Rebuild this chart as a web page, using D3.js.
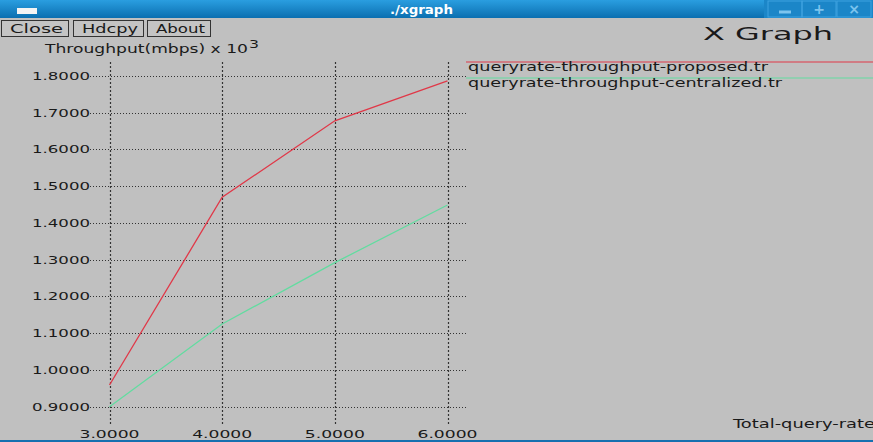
<!DOCTYPE html>
<html>
<head>
<meta charset="utf-8">
<script src="https://cdn.jsdelivr.net/npm/d3@7"></script>
<style>
  body { margin: 0; background: #c0c0c0; overflow: hidden; }
  text { font-family: "DejaVu Sans", sans-serif; fill: #1a1a1a; }
</style>
</head>
<body>
<div id="chart"></div>
<script>
const width = 873;
const height = 442;

// data
const queryRate = [3, 4, 5, 6];
const proposed = [0.959, 1.470, 1.678, 1.787];
const centralized = [0.900, 1.125, 1.292, 1.449];
const seriesNames = ['queryrate-throughput-proposed.tr', 'queryrate-throughput-centralized.tr'];
const xTicks = [3, 4, 5, 6];
const yTicks = [0.9, 1.0, 1.1, 1.2, 1.3, 1.4, 1.5, 1.6, 1.7, 1.8];
const buttons = ['Close', 'Hdcpy', 'About'];

const svg = d3.select('#chart')
  .append('svg')
    .attr('width', width)
    .attr('height', height);

svg.append('rect').attr('width', width).attr('height', height).attr('fill', '#c0c0c0');

// stretch text to a given width, the xgraph font is wide
function fit(sel, w) {
  sel.attr('textLength', w).attr('lengthAdjust', 'spacingAndGlyphs');
  return sel;
}

// title bar
const grad = svg.append('defs').append('linearGradient')
  .attr('id', 'bar').attr('x1', 0).attr('x2', 0).attr('y1', 0).attr('y2', 1);
grad.append('stop').attr('offset', 0).attr('stop-color', '#2a9ee0');
grad.append('stop').attr('offset', 1).attr('stop-color', '#0b6fb0');
svg.append('rect').attr('width', width).attr('height', 18).attr('fill', 'url(#bar)');
svg.append('rect').attr('x', 17).attr('y', 8).attr('width', 20).attr('height', 6).attr('fill', '#f4f4f4');
fit(svg.append('text').attr('x', 390).attr('y', 14)
  .style('font-weight', 'bold').style('font-size', '12px').style('fill', '#fff')
  .text('./xgraph'), 63);
svg.append('rect').attr('x', 764).attr('y', 0).attr('width', 109).attr('height', 18).attr('fill', '#1b86c8');
[[768, 34], [802, 34], [837, 34]].forEach(d => {
  svg.append('rect').attr('x', d[0]).attr('y', 1).attr('width', d[1]).attr('height', 16)
    .attr('fill', 'none').attr('stroke', '#3fa2e0').attr('stroke-width', 1);
});
svg.append('line').attr('x1', 779).attr('x2', 791).attr('y1', 12).attr('y2', 12)
  .attr('stroke', '#7cc4ee').attr('stroke-width', 3);
svg.append('text').attr('x', 819).attr('y', 14).attr('text-anchor', 'middle')
  .style('font-size', '14px').style('font-weight', 'bold').style('fill', '#7cc4ee').text('+');
svg.append('text').attr('x', 854).attr('y', 14).attr('text-anchor', 'middle')
  .style('font-size', '14px').style('font-weight', 'bold').style('fill', '#7cc4ee').text('×');

// buttons
const btnX = [[1, 67], [73, 70], [147, 63]];
buttons.forEach((b, i) => {
  svg.append('rect').attr('x', btnX[i][0] + 0.5).attr('y', 20.5)
    .attr('width', btnX[i][1]).attr('height', 16)
    .attr('fill', '#c4c4c4').attr('stroke', '#333');
  fit(svg.append('text').attr('x', btnX[i][0] + 9).attr('y', 33)
    .style('font-size', '12px').text(b), btnX[i][1] - 14);
});

// scales
const x = d3.scaleLinear().domain([3, 6]).range([109.5, 447.5]);
const y = d3.scaleLinear().domain([0.9, 1.8]).range([406.7, 76]);

// grid
const g = svg.append('g');
g.selectAll('.hgrid').data(yTicks).join('line')
  .attr('x1', 90).attr('x2', 467)
  .attr('y1', d => Math.round(y(d)) + 0.5).attr('y2', d => Math.round(y(d)) + 0.5)
  .attr('stroke', '#333').attr('stroke-width', 1).attr('stroke-dasharray', '1,2');
g.selectAll('.vgrid').data(xTicks).join('line')
  .attr('x1', d => Math.round(x(d)) + 0.5).attr('x2', d => Math.round(x(d)) + 0.5)
  .attr('y1', 62).attr('y2', 426)
  .attr('stroke', '#333').attr('stroke-width', 1.2).attr('stroke-dasharray', '2,2');

// tick labels
g.selectAll('.ylab').data(yTicks).join('text')
  .attr('x', 32).attr('y', d => y(d) + 4)
  .style('font-size', '11px')
  .text(d3.format('.4f'))
  .call(fit, 58);
g.selectAll('.xlab').data(xTicks).join('text')
  .attr('x', d => x(d) - 30).attr('y', 438)
  .style('font-size', '11px')
  .text(d3.format('.4f'))
  .call(fit, 60);

// axis titles
const yt = svg.append('text').attr('x', 45).attr('y', 53).style('font-size', '12px');
fit(yt, 203).text('Throughput(mbps) x 10');
svg.append('text').attr('x', 249).attr('y', 48).style('font-size', '10px').text('3').call(fit, 10);
fit(svg.append('text').attr('x', 703).attr('y', 40).style('font-size', '18px').text('X Graph'), 130);
fit(svg.append('text').attr('x', 733).attr('y', 428).style('font-size', '12px').text('Total-query-rate'), 142);

// lines
const line = d3.line().x((d, i) => x(queryRate[i])).y(d => y(d));
const colors = ['#e03848', '#62dca0'];
[proposed, centralized].forEach((s, k) => {
  svg.append('path').datum(s)
    .attr('d', line)
    .attr('fill', 'none')
    .attr('stroke', colors[k])
    .attr('stroke-width', 1.3);
});

// legend
const legY = [62, 78];
const legTextY = [71, 87];
seriesNames.forEach((n, k) => {
  svg.append('line').attr('x1', 466).attr('x2', width)
    .attr('y1', legY[k]).attr('y2', legY[k])
    .attr('stroke', colors[k]).attr('stroke-width', 1.2);
  fit(svg.append('text').attr('x', 468).attr('y', legTextY[k])
    .style('font-size', '12px').text(n), k === 0 ? 300 : 314);
});

// bottom border
svg.append('rect').attr('x', 0).attr('y', 440).attr('width', width).attr('height', 2).attr('fill', '#1670b0');
</script>
</body>
</html>
